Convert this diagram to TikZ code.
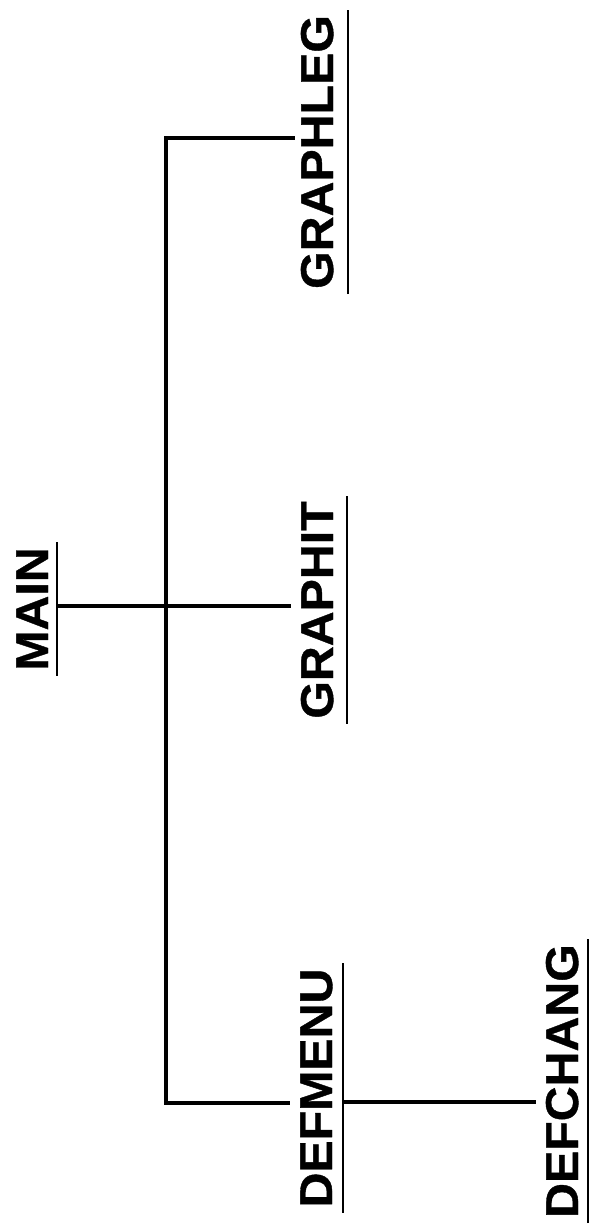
\documentclass[tikz,border=0pt]{standalone}
\usepackage{fontspec}
\setmainfont{Liberation Sans}[FakeStretch=1.05,BoldFeatures={FakeBold=0.8}]
\usetikzlibrary{calc}
\begin{document}
\begin{tikzpicture}[x=1pt,y=1pt,
  lbl/.style={rotate=90,anchor=base,inner sep=0pt,font=\fontsize{46}{50}\selectfont\bfseries},
  ul/.style={line width=2.4pt,shorten <=-5pt,shorten >=-5pt},
  conn/.style={line width=3.4pt,line cap=butt}]
\useasboundingbox (0,0) rectangle (593,-1227);
% labels
\node[lbl] (main) at (48,-609) {MAIN};
\node[lbl] (graphit) at (333,-610) {GRAPHIT};
\node[lbl] (graphleg) at (333,-152) {GRAPHLEG};
\node[lbl] (defmenu) at (332,-1088) {DEFMENU};
\node[lbl] (defchang) at (578,-1081) {DEFCHANG};
% underlines
\draw[ul] ([xshift=9pt]main.base west) -- ([xshift=9pt]main.base east);
\draw[ul] ([xshift=14pt]graphit.base west) -- ([xshift=14pt]graphit.base east);
\draw[ul] ([xshift=15pt]graphleg.base west) -- ([xshift=15pt]graphleg.base east);
\draw[ul] ([xshift=11pt]defmenu.base west) -- ([xshift=11pt]defmenu.base east);
\draw[ul] ([xshift=10pt]defchang.base west) -- ([xshift=10pt]defchang.base east);
% junctions
\coordinate (mj) at (57,-606);
\coordinate (top) at (166,-138);
\coordinate (bot) at (166,-1103);
\coordinate (dj) at (343,-1102);
% connectors
\draw[conn] (mj) -- ($(mj -| graphit.north)+(-10pt,0)$);
\draw[conn,line join=miter] ($(top -| graphleg.north)+(-6pt,0)$) -- (top) -- (bot) -- ($(bot -| defmenu.north)+(-10pt,0)$);
\draw[conn] (dj) -- ($(dj -| defchang.north)+(-10pt,0)$);
\end{tikzpicture}
\end{document}
